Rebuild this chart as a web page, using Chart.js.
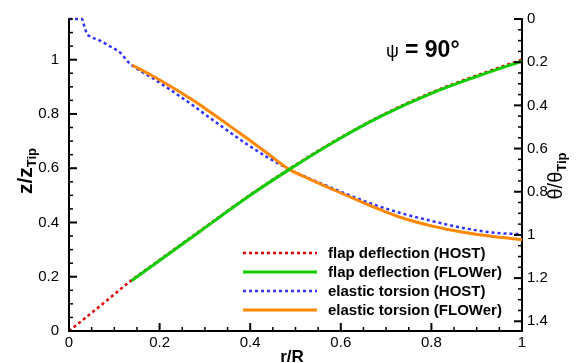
<!DOCTYPE html>
<html lang="en">
<head>
<meta charset="UTF-8">
<title>Flap deflection and elastic torsion</title>
<script src="https://cdn.jsdelivr.net/npm/chart.js@4.4.1/dist/chart.umd.min.js"></script>
<style>
    html, body { margin: 0; padding: 0; background: #fff; }
</style>
</head>
<body>
<canvas id="Chart1" width="582" height="363"></canvas>

<script>
    // flap deflection, read against the left axis (z/zTip)
    const flapHostR = [0, 0.07, 0.138, 0.2, 0.289, 0.4, 0.483, 0.583, 0.687, 0.8, 0.9, 1.0];
    const flapHostZ = [0, 0.094, 0.187, 0.262, 0.369, 0.502, 0.594, 0.697, 0.792, 0.879, 0.942, 1.0];
    const flapFlowerR = [0.138, 0.2, 0.289, 0.4, 0.483, 0.583, 0.687, 0.8, 0.9, 1.0];
    const flapFlowerZ = [0.185, 0.26, 0.367, 0.50, 0.592, 0.695, 0.79, 0.876, 0.938, 0.995];

    // elastic torsion, read against the right axis (theta/thetaTip, reversed)
    const torsHostR = [0, 0.029, 0.032, 0.035, 0.04, 0.046, 0.068, 0.09, 0.113, 0.131, 0.141, 0.18, 0.223, 0.27, 0.311, 0.35, 0.395, 0.44, 0.484, 0.53, 0.583, 0.658, 0.731, 0.8, 0.87, 0.94, 1.0];
    const torsHostT = [0, 0, 0.02, 0.042, 0.07, 0.08, 0.1, 0.126, 0.156, 0.2, 0.218, 0.268, 0.327, 0.395, 0.458, 0.517, 0.583, 0.643, 0.694, 0.738, 0.785, 0.848, 0.898, 0.935, 0.968, 0.99, 0.997];
    const torsFlowerR = [0.14, 0.18, 0.223, 0.27, 0.311, 0.35, 0.395, 0.44, 0.484, 0.53, 0.583, 0.658, 0.731, 0.8, 0.87, 0.94, 1.0];
    const torsFlowerT = [0.214, 0.258, 0.31, 0.371, 0.43, 0.488, 0.556, 0.625, 0.694, 0.74, 0.79, 0.858, 0.918, 0.958, 0.988, 1.009, 1.022];

    const seriesNames = ["flap deflection (HOST)", "flap deflection (FLOWer)", "elastic torsion (HOST)", "elastic torsion (FLOWer)"];

    const xTicks = [0, 0.2, 0.4, 0.6, 0.8, 1];
    const zTicks = [0, 0.2, 0.4, 0.6, 0.8, 1];
    const thetaTicks = [0, 0.2, 0.4, 0.6, 0.8, 1, 1.2, 1.4];

    const FONT = "'Liberation Sans', Arial, sans-serif";

    function toPoints(r, v) {
        return r.map(function (x, i) { return {x: x, y: v[i]}; });
    }

    function fmt(v) {
        return Number(v.toFixed(2)).toString();
    }

    // ticks are drawn inside the frame, with minor ticks every 0.05
    function drawTicks(ctx, scale, to, majors, side) {
        const area = scale.chart.chartArea;
        for (let i = 0; i * 0.05 <= to + 1e-9; i++) {
            const v = i * 0.05;
            const major = majors.some(function (m) { return Math.abs(m - v) < 1e-6; });
            const len = major ? 8 : 4;
            const p = scale.getPixelForValue(v);
            ctx.lineWidth = major ? 2 : 1.5;
            ctx.beginPath();
            if (side === "bottom") {
                ctx.moveTo(p, area.bottom);
                ctx.lineTo(p, area.bottom - len);
            } else if (side === "left") {
                ctx.moveTo(area.left, p);
                ctx.lineTo(area.left + len, p);
            } else {
                ctx.moveTo(area.right, p);
                ctx.lineTo(area.right - len, p);
            }
            ctx.stroke();
        }
    }

    function drawRotatedLabel(ctx, x, cy, main, mainFont, sub, subFont) {
        ctx.save();
        ctx.translate(x, cy);
        ctx.rotate(-Math.PI / 2);
        ctx.font = mainFont;
        const w1 = ctx.measureText(main).width;
        ctx.font = subFont;
        const w2 = ctx.measureText(sub).width;
        const start = -(w1 + w2) / 2;
        ctx.textBaseline = "alphabetic";
        ctx.textAlign = "left";
        ctx.font = mainFont;
        ctx.fillText(main, start, 0);
        ctx.font = subFont;
        ctx.fillText(sub, start + w1, 4);
        ctx.restore();
    }

    const decorations = {
        id: "decorations",
        afterDraw(chart) {
            const ctx = chart.ctx;
            const s = chart.scales;
            ctx.save();
            ctx.strokeStyle = "#000";
            ctx.fillStyle = "#000";
            drawTicks(ctx, s.x, 1, xTicks, "bottom");
            drawTicks(ctx, s.y, 1.15, zTicks, "left");
            drawTicks(ctx, s.y2, 1.4, thetaTicks, "right");

            // axis titles
            drawRotatedLabel(ctx, 32, 171, "z/z", "bold 21px " + FONT, "Tip", "bold 13px " + FONT);
            drawRotatedLabel(ctx, 562, 176, "\u03b8/\u03b8", "20px " + FONT, "Tip", "bold 13px " + FONT);
            ctx.font = "bold 17px " + FONT;
            ctx.textAlign = "center";
            ctx.textBaseline = "alphabetic";
            ctx.fillText("r/R", 292, 362);

            // azimuth note
            ctx.textAlign = "left";
            ctx.font = "18px " + FONT;
            ctx.fillText("\u03c8", 386, 57);
            ctx.font = "bold 23px " + FONT;
            ctx.fillText("= 90\u00b0", 405, 57);

            // legend inside the plot
            ctx.textBaseline = "middle";
            ctx.font = "bold 15px " + FONT;
            chart.data.datasets.forEach(function (ds, i) {
                const y = 253 + i * 19;
                ctx.strokeStyle = ds.borderColor;
                ctx.lineWidth = ds.borderWidth;
                ctx.setLineDash(ds.borderDash || []);
                ctx.beginPath();
                ctx.moveTo(243, y);
                ctx.lineTo(317, y);
                ctx.stroke();
                ctx.setLineDash([]);
                ctx.fillText(ds.label, 328, y + 1);
            });
            ctx.restore();
        }
    };

    const tickFont = {family: FONT, size: 15};

    new Chart("Chart1", {
        type: "line",
        data: {
            datasets: [{
                label: seriesNames[0],
                data: toPoints(flapHostR, flapHostZ),
                yAxisID: "y",
                borderColor: "#dd0000",
                borderWidth: 2.5,
                borderDash: [3, 3],
                order: 3
            }, {
                label: seriesNames[1],
                data: toPoints(flapFlowerR, flapFlowerZ),
                yAxisID: "y",
                borderColor: "#11cc00",
                borderWidth: 3,
                order: 1
            }, {
                label: seriesNames[2],
                data: toPoints(torsHostR, torsHostT),
                yAxisID: "y2",
                borderColor: "#3030ff",
                borderWidth: 2.5,
                borderDash: [3, 3],
                order: 4
            }, {
                label: seriesNames[3],
                data: toPoints(torsFlowerR, torsFlowerT),
                yAxisID: "y2",
                borderColor: "#ff8800",
                borderWidth: 3,
                order: 2
            }]
        },
        options: {
            responsive: false,
            animation: false,
            clip: false,
            elements: {
                point: {radius: 0},
                line: {cubicInterpolationMode: "monotone", fill: false}
            },
            layout: {padding: {top: 14, left: 0, right: 0, bottom: 0}},
            plugins: {
                legend: {display: false},
                tooltip: {enabled: false}
            },
            scales: {
                x: {
                    type: "linear",
                    min: 0,
                    max: 1,
                    grid: {display: false, drawTicks: false},
                    border: {color: "#000", width: 2},
                    ticks: {color: "#000", font: tickFont, padding: 3, maxRotation: 0, callback: fmt},
                    afterBuildTicks: function (s) { s.ticks = xTicks.map(function (v) { return {value: v}; }); },
                    afterFit: function (s) { s.height = 32; }
                },
                y: {
                    type: "linear",
                    position: "left",
                    min: 0,
                    max: 1.15,
                    grid: {display: false, drawTicks: false},
                    border: {color: "#000", width: 2},
                    ticks: {color: "#000", font: tickFont, padding: 10, callback: fmt},
                    afterBuildTicks: function (s) { s.ticks = zTicks.map(function (v) { return {value: v}; }); },
                    afterFit: function (s) { s.width = 69; }
                },
                y2: {
                    type: "linear",
                    position: "right",
                    reverse: true,
                    min: 0,
                    max: 1.445,
                    grid: {display: false, drawTicks: false},
                    border: {color: "#000", width: 2},
                    ticks: {color: "#000", font: tickFont, padding: 5, callback: fmt},
                    afterBuildTicks: function (s) { s.ticks = thetaTicks.map(function (v) { return {value: v}; }); },
                    afterFit: function (s) { s.width = 60; }
                }
            }
        },
        plugins: [decorations]
    });
</script>
</body>
</html>
